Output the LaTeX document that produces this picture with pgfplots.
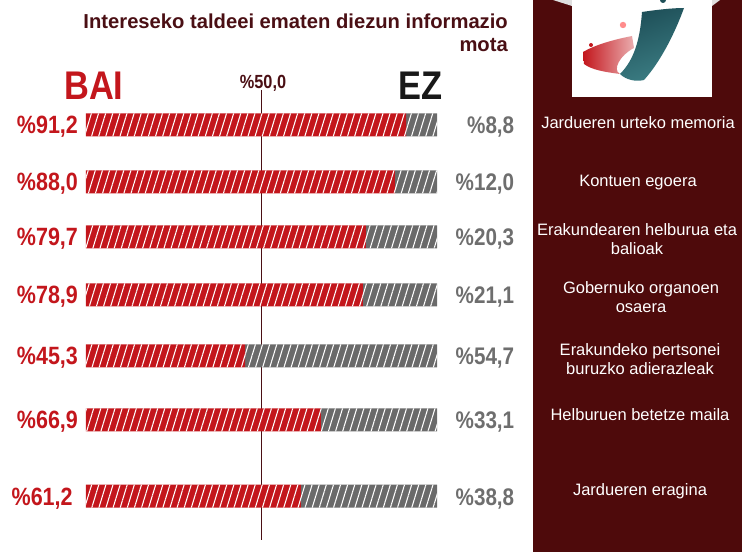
\documentclass[border=0pt]{standalone}
\usepackage{pgfplots}
\pgfplotsset{compat=1.18}
\usepackage{fontspec}
\setmainfont{Liberation Sans}
\newfontfamily\cond[FakeStretch=0.86]{Liberation Sans}
\usetikzlibrary{patterns.meta}
\definecolor{bai}{HTML}{C3161C}
\definecolor{ez}{HTML}{6A6A6A}
\definecolor{ezt}{HTML}{6E6E6E}
\definecolor{panel}{HTML}{4E0A0B}
\definecolor{ttl}{HTML}{4A0F14}
\definecolor{tealA}{HTML}{1E4F58}
\definecolor{tealB}{HTML}{3C7E84}
\tikzset{stripes/.style={postaction={pattern={Lines[angle=73,distance=6.8pt,line width=1.05pt]},pattern color=white}},
  lv/.style={anchor=base east,text=bai,font=\cond\bfseries\fontsize{25}{28}\selectfont},
  rv/.style={anchor=base east,text=ezt,font=\cond\bfseries\fontsize{24}{27}\selectfont}}
\begin{document}
\begin{tikzpicture}
\begin{axis}[width=742pt,height=552pt,scale only axis,hide axis,clip=false,
  xmin=-24.50,xmax=186.89,ymin=0,ymax=552,
  xbar stacked, bar width=23pt]
\addplot[fill=bai,draw=none,stripes]
  coordinates {(91.2,427)(88.0,370)(79.7,315)(78.9,257)(45.3,196)(66.9,132)(61.2,56)};
\addplot[fill=ez,draw=none,stripes]
  coordinates {(8.8,427)(12.0,370)(20.3,315)(21.1,257)(54.7,196)(33.1,132)(38.8,56)};
\draw[ttl,line width=1.4pt] (axis cs:50,462) -- (axis cs:50,12);
\node[lv] at (axis cs:-1.3,418) {\%91,2};
\node[lv] at (axis cs:-1.3,361) {\%88,0};
\node[lv] at (axis cs:-1.3,306) {\%79,7};
\node[lv] at (axis cs:-1.3,248) {\%78,9};
\node[lv] at (axis cs:-1.3,187) {\%45,3};
\node[lv] at (axis cs:-1.3,123) {\%66,9};
\node[lv] at (axis cs:-2.8,47) {\%61,2};
\node[rv] at (axis cs:123.0,418) {\%8,8};
\node[rv] at (axis cs:123.0,361) {\%12,0};
\node[rv] at (axis cs:123.0,306) {\%20,3};
\node[rv] at (axis cs:123.0,248) {\%21,1};
\node[rv] at (axis cs:123.0,187) {\%54,7};
\node[rv] at (axis cs:123.0,123) {\%33,1};
\node[rv] at (axis cs:123.0,47) {\%38,8};
\coordinate (TL) at (rel axis cs:0,1);
\end{axis}
\begin{scope}[shift={(TL)},x={(1pt,0)},y={(0,-1pt)}]
% right panel
\fill[panel] (533,0) rectangle (742,552);
% logo
\fill[gray!25] (553,0) -- (572,0) -- (572,6) -- cycle;
\fill[gray!25] (712,0) -- (720,0) -- (712,6) -- cycle;
\fill[white] (572,0) rectangle (712,97);
\shade[left color=bai,right color=bai!35] (583,52) .. controls (595,45) and (612,40) .. (632,36)
  -- (634,48) .. controls (620,55) and (612,70) .. (620,74) .. controls (605,72) and (592,70) .. (584,64) -- cycle;
\shade[top color=tealA,bottom color=tealB,shading angle=20] (642,12) .. controls (655,10) and (672,8) .. (684,8)
  .. controls (676,30) and (662,60) .. (644,80) .. controls (636,82) and (626,80) .. (620,74)
  .. controls (634,60) and (640,40) .. (642,12) -- cycle;
\fill[red!45!white] (623,25) circle (3.2);
\fill[bai] (591,45) circle (2);
\fill[tealA] (663,0) circle (3);
% title
\node[anchor=north east,align=right,text=ttl,font=\bfseries\fontsize{20.2}{23}\selectfont,inner sep=0pt] at (508,14) {Intereseko taldeei ematen diezun informazio\\mota};
\node[anchor=base west,text=bai,font=\cond\bfseries\fontsize{40}{44}\selectfont,inner sep=0pt] at (64,100) {BAI};
\node[anchor=base west,text=black!90,font=\cond\bfseries\fontsize{40}{44}\selectfont,inner sep=0pt] at (398,100) {EZ};
\node[anchor=base,text=ttl,font=\cond\bfseries\fontsize{19}{22}\selectfont,inner sep=0pt] at (263,89) {\%50,0};
% panel labels
\tikzset{pl/.style={text=white,align=center,font=\fontsize{16.5}{18.5}\selectfont,inner sep=0pt}}
\node[pl] at (638,123) {Jardueren urteko memoria};
\node[pl] at (638,183) {Kontuen egoera};
\node[pl] at (637,239) {Erakundearen helburua eta\\balioak};
\node[pl] at (641,297) {Gobernuko organoen\\osaera};
\node[pl] at (640,359) {Erakundeko pertsonei\\buruzko adierazleak};
\node[pl] at (640,415) {Helburuen betetze maila};
\node[pl] at (640,491) {Jardueren eragina};
\pgfresetboundingbox
\path[use as bounding box] (0,0) rectangle (742,552);
\end{scope}
\end{tikzpicture}
\end{document}
